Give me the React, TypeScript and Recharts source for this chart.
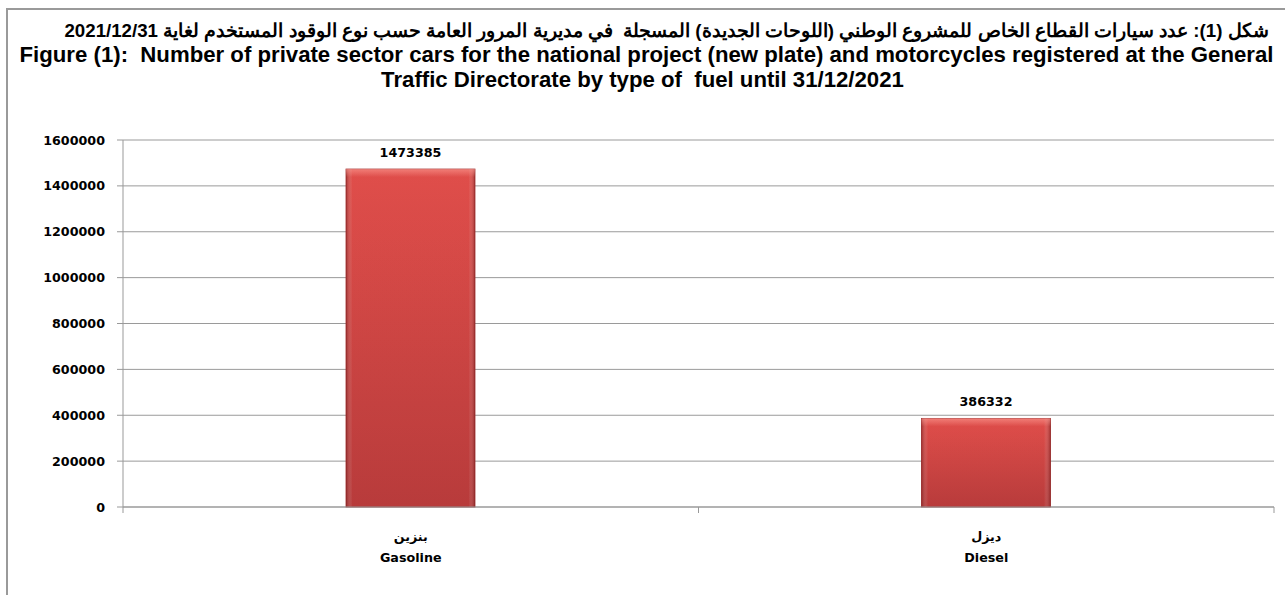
import React from "react";
import { BarChart, Bar, XAxis, YAxis, CartesianGrid, LabelList } from "recharts";

const categoriesAr = ["بنزين", "ديزل"];
const categoriesEn = ["Gasoline", "Diesel"];
const values = [1473385, 386332];
const yTicks = [0, 200000, 400000, 600000, 800000, 1000000, 1200000, 1400000, 1600000];

const titleLines = [
  "شكل (1): عدد سيارات القطاع الخاص للمشروع الوطني (اللوحات الجديدة) المسجلة  في مديرية المرور العامة حسب نوع الوقود المستخدم لغاية 2021/12/31",
  "Figure (1):  Number of private sector cars for the national project (new plate) and motorcycles registered at the General",
  "Traffic Directorate by type of  fuel until 31/12/2021",
];

const data = categoriesEn.map((en, i) => ({ en, ar: categoriesAr[i], value: values[i] }));

const FONT = "'DejaVu Sans', 'Open Sans', sans-serif";
const TITLE_FONT = "'Liberation Sans', Arial, sans-serif";

const BevelBar = (props: any) => {
  const { x, y, width, height } = props;
  if (!height || height <= 0) return null;
  return (
    <g>
      <rect x={x} y={y} width={width} height={height} fill="url(#barFill)" stroke="#a02c2c" strokeWidth={0.8} />
      <rect x={x} y={y} width={width} height={height} fill="url(#bevelH)" />
      <rect x={x} y={y} width={width} height={Math.min(8, height)} fill="url(#bevelTop)" />
    </g>
  );
};

const XTick = (props: any) => {
  const { x, y, payload, index } = props;
  const half = payload && payload.offset ? payload.offset : 0;
  const d = data[index] || data.find((r) => r.en === payload.value);
  const axisY = y - 8;
  return (
    <g>
      {half > 0 ? (
        <line x1={x + half} x2={x + half} y1={axisY} y2={axisY + 6} stroke="#999" />
      ) : null}
      {index === 0 && half > 0 ? (
        <line x1={x - half} x2={x - half} y1={axisY} y2={axisY + 6} stroke="#999" />
      ) : null}
      <text x={x} y={y + 26} textAnchor="middle" fontFamily={FONT} fontWeight="bold" fontSize={12.7} fill="#000">
        {d ? d.ar : ""}
      </text>
      <text x={x} y={y + 47} textAnchor="middle" fontFamily={FONT} fontWeight="bold" fontSize={12.7} fill="#000">
        {d ? d.en : payload.value}
      </text>
    </g>
  );
};

const titleStyle: React.CSSProperties = {
  position: "absolute",
  left: 0,
  width: 1285,
  textAlign: "center",
  fontFamily: TITLE_FONT,
  fontWeight: "bold",
  whiteSpace: "pre",
  color: "#000",
  lineHeight: "25px",
};

export default function App() {
  return (
    <div style={{ position: "absolute", left: 0, top: 0, width: 1285, height: 595, background: "#fff", overflow: "hidden" }}>
      <div
        style={{
          position: "absolute",
          left: 6,
          top: 8,
          width: 1300,
          height: 600,
          border: "2px solid #9a9a9a",
          boxSizing: "border-box",
        }}
      />
      <div dir="rtl" style={{ ...titleStyle, top: 18, left: 24, fontSize: 18.7 }}>{titleLines[0]}</div>
      <div style={{ ...titleStyle, top: 42, left: 4, fontSize: 22.2 }}>{titleLines[1]}</div>
      <div style={{ ...titleStyle, top: 67, fontSize: 22.2 }}>{titleLines[2]}</div>
      <div style={{ position: "absolute", left: 0, top: 0 }}>
        <BarChart width={1285} height={595} data={data} margin={{ top: 140, right: 11, bottom: 28, left: 10 }}>
          <defs>
            <linearGradient id="barFill" x1="0" y1="0" x2="0" y2="1">
              <stop offset="0%" stopColor="#df4743" />
              <stop offset="100%" stopColor="#b53333" />
            </linearGradient>
            <linearGradient id="bevelH" x1="0" y1="0" x2="1" y2="0">
              <stop offset="0%" stopColor="#6e1818" stopOpacity={0.5} />
              <stop offset="5%" stopColor="#ffffff" stopOpacity={0.04} />
              <stop offset="95%" stopColor="#ffffff" stopOpacity={0.04} />
              <stop offset="100%" stopColor="#6e1818" stopOpacity={0.5} />
            </linearGradient>
            <linearGradient id="bevelTop" x1="0" y1="0" x2="0" y2="1">
              <stop offset="0%" stopColor="#ffa59c" stopOpacity={0.55} />
              <stop offset="100%" stopColor="#ffa59c" stopOpacity={0} />
            </linearGradient>
          </defs>
          <CartesianGrid vertical={false} stroke="#9a9a9a" strokeWidth={1} />
          <XAxis
            dataKey="en"
            stroke="#999"
            tickLine={false}
            tick={<XTick />}
            height={60}
            interval={0}
          />
          <YAxis
            domain={[0, 1600000]}
            ticks={yTicks}
            width={113}
            stroke="#999"
            tickSize={6}
            tickMargin={12}
            interval={0}
            tick={{ fontFamily: FONT, fontWeight: "bold", fontSize: 12.7, fill: "#000" }}
          />
          <Bar dataKey="value" barSize={129} shape={<BevelBar />} isAnimationActive={false}>
            <LabelList
              dataKey="value"
              position="top"
              offset={12}
              style={{ fontFamily: FONT, fontWeight: "bold", fontSize: 12.7, fill: "#000" }}
            />
          </Bar>
        </BarChart>
      </div>
    </div>
  );
}
